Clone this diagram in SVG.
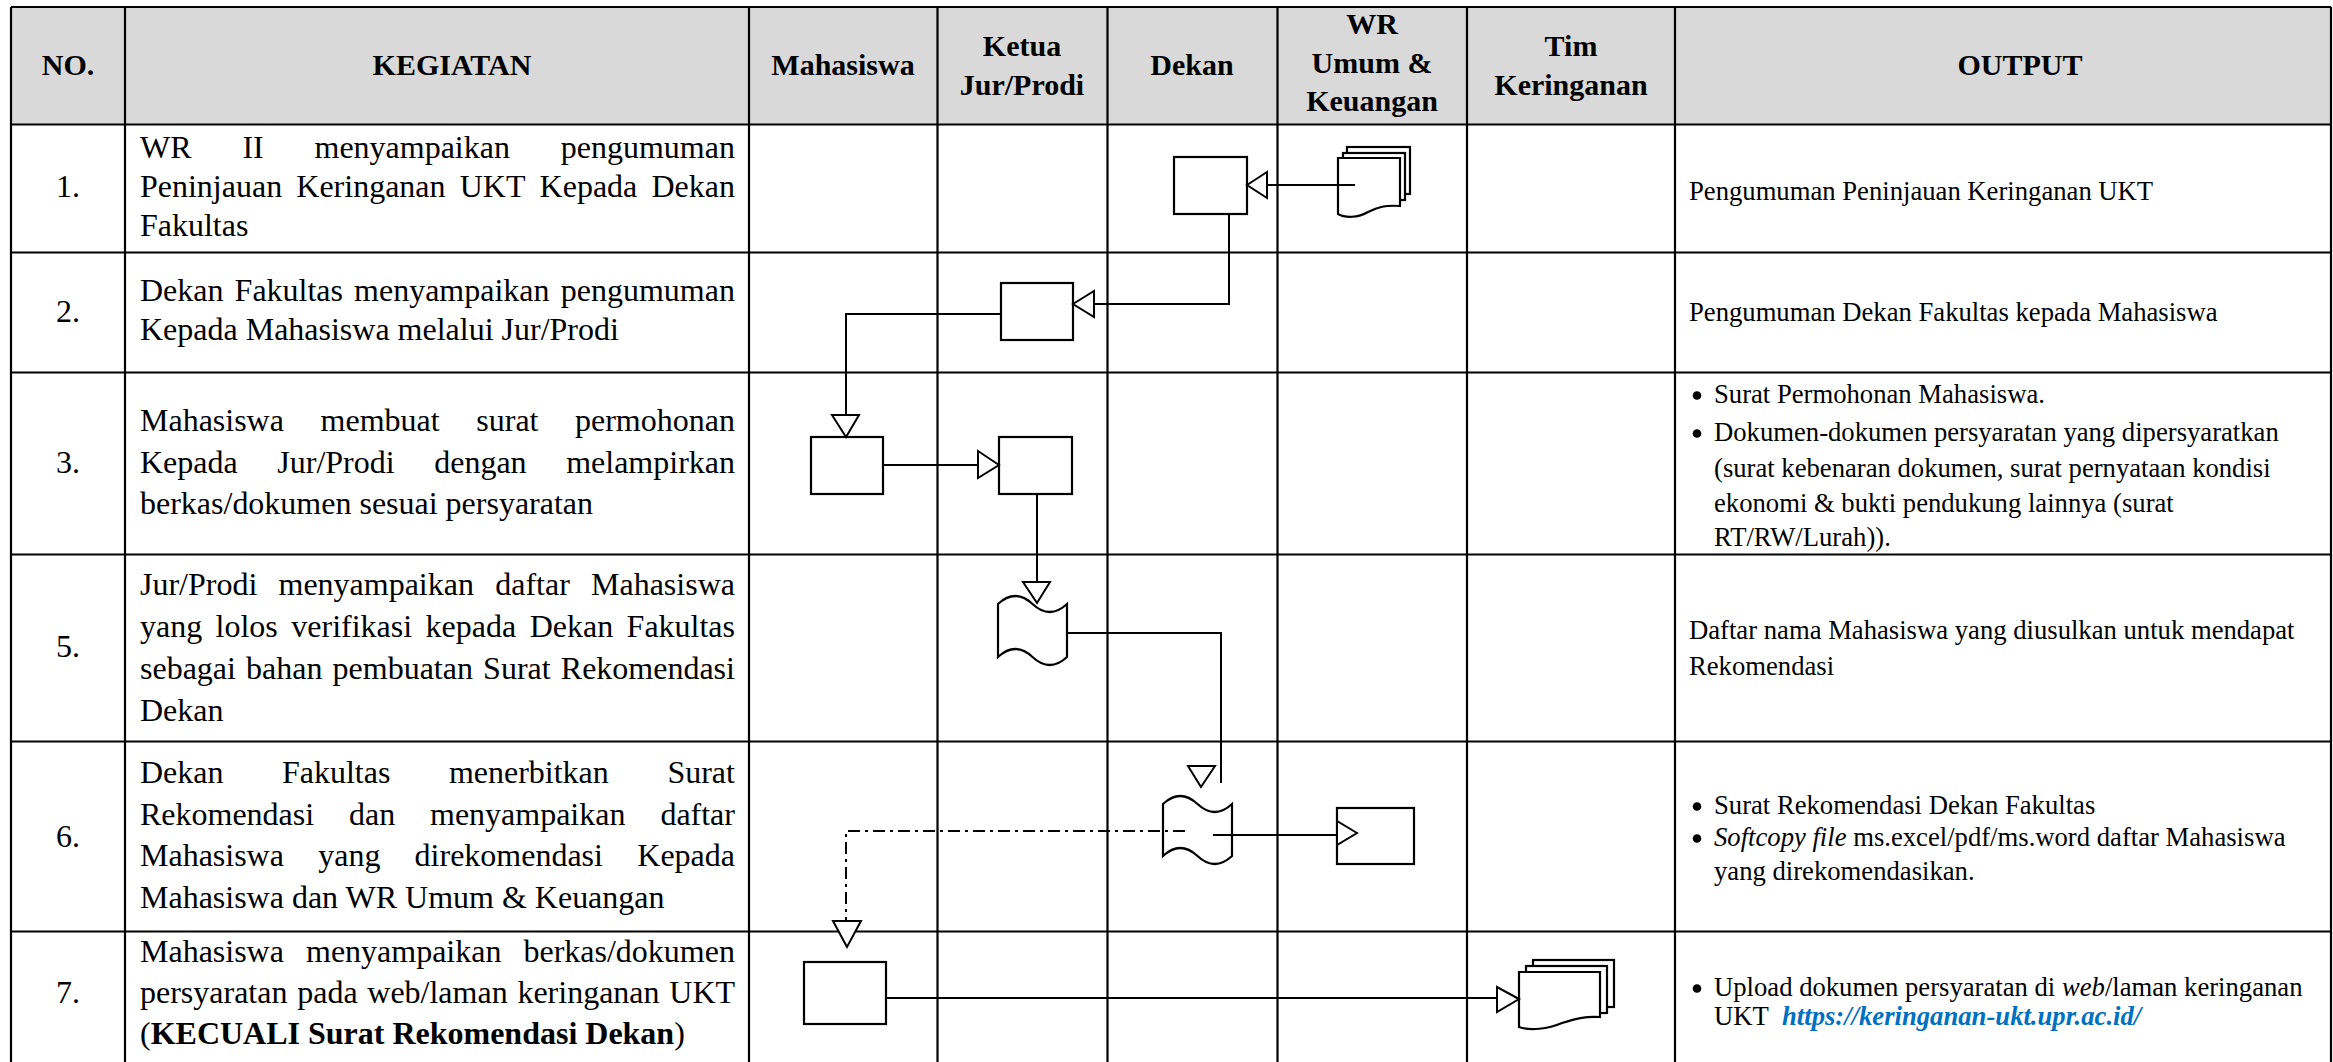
<svg xmlns="http://www.w3.org/2000/svg" width="2333" height="1062" viewBox="0 0 2333 1062">
<style>
.t{font-family:"Liberation Serif","Times New Roman",serif;font-size:32px;fill:#000}
.h{font-weight:bold;font-size:30px;text-anchor:middle}
.n{text-anchor:middle}
.o{font-size:26.67px}
.b{font-weight:bold}
.i{font-style:italic}
.lnk{font-weight:bold;font-style:italic;fill:#0070c0}
.dot{fill:#000}
.grid{stroke:#000;stroke-width:2.2;fill:none}
.shape{fill:#fff;stroke:#000;stroke-width:2.2;stroke-linejoin:miter}
.c{fill:none;stroke:#000;stroke-width:2}
.dd{stroke-dasharray:12 5 3 5}
.ah{fill:#fff;stroke:#000;stroke-width:2}
</style>
<rect x="0" y="0" width="2333" height="1062" fill="#fff"/>
<g id="table">
<rect x="11" y="7" width="2320" height="117.5" fill="#d9d9d9"/>
<path class="grid" d="M11,7H2331M11,124.5H2331M11,252.5H2331M11,372.5H2331M11,554.5H2331M11,741.5H2331M11,931.5H2331"/>
<path class="grid" d="M11,7V1062M125,7V1062M749,7V1062M937.5,7V1062M1107.5,7V1062M1277.5,7V1062M1467,7V1062M1675,7V1062M2331,7V1062"/>
</g>
<g id="header">
<text class="t h" transform="matrix(1 0 0 .96 0 75)" x="68">NO.</text>
<text class="t h" transform="matrix(1 0 0 .96 0 75)" x="452">KEGIATAN</text>
<text class="t h" transform="matrix(1 0 0 .96 0 75)" x="843">Mahasiswa</text>
<text class="t h" transform="matrix(1 0 0 .96 0 56)" x="1022">Ketua</text>
<text class="t h" transform="matrix(1 0 0 .96 0 95)" x="1022">Jur/Prodi</text>
<text class="t h" transform="matrix(1 0 0 .96 0 75)" x="1192">Dekan</text>
<text class="t h" transform="matrix(1 0 0 .96 0 34)" x="1372">WR</text>
<text class="t h" transform="matrix(1 0 0 .96 0 73)" x="1372">Umum &amp;</text>
<text class="t h" transform="matrix(1 0 0 .96 0 111)" x="1372">Keuangan</text>
<text class="t h" transform="matrix(1 0 0 .96 0 56)" x="1571">Tim</text>
<text class="t h" transform="matrix(1 0 0 .96 0 95)" x="1571">Keringanan</text>
<text class="t h" transform="matrix(1 0 0 .96 0 75)" x="2020">OUTPUT</text>
</g>
<g id="row1">
<text class="t n" transform="matrix(1 0 0 .96 0 197)" x="68">1.</text>
<text class="t" transform="matrix(1 0 0 .96 0 158)"><tspan x="140">WR</tspan><tspan x="242.4">II</tspan><tspan x="314.5">menyampaikan</tspan><tspan x="560.8">pengumuman</tspan></text>
<text class="t" transform="matrix(1 0 0 .96 0 197)"><tspan x="140">Peninjauan</tspan><tspan x="296.3">Keringanan</tspan><tspan x="459.7">UKT</tspan><tspan x="539.6">Kepada</tspan><tspan x="651.4">Dekan</tspan></text>
<text class="t" transform="matrix(1 0 0 .96 0 236)" x="140">Fakultas</text>
<text class="t o" x="1689" y="200">Pengumuman Peninjauan Keringanan UKT</text>
</g>
<g id="row2">
<text class="t n" transform="matrix(1 0 0 .96 0 322)" x="68">2.</text>
<text class="t" transform="matrix(1 0 0 .96 0 301)"><tspan x="140">Dekan</tspan><tspan x="234.6">Fakultas</tspan><tspan x="354.1">menyampaikan</tspan><tspan x="560.8">pengumuman</tspan></text>
<text class="t" transform="matrix(1 0 0 .96 0 340)" x="140">Kepada Mahasiswa melalui Jur/Prodi</text>
<text class="t o" x="1689" y="321">Pengumuman Dekan Fakultas kepada Mahasiswa</text>
</g>
<g id="row3">
<text class="t n" transform="matrix(1 0 0 .96 0 473)" x="68">3.</text>
<text class="t" transform="matrix(1 0 0 .96 0 431)"><tspan x="140">Mahasiswa</tspan><tspan x="320.6">membuat</tspan><tspan x="476.3">surat</tspan><tspan x="575">permohonan</tspan></text>
<text class="t" transform="matrix(1 0 0 .96 0 473)"><tspan x="140">Kepada</tspan><tspan x="277.3">Jur/Prodi</tspan><tspan x="434.2">dengan</tspan><tspan x="566.2">melampirkan</tspan></text>
<text class="t" transform="matrix(1 0 0 .96 0 514)" x="140">berkas/dokumen sesuai persyaratan</text>
<circle class="dot" cx="1697" cy="395.5" r="4.3"/>
<text class="t o" x="1714" y="403">Surat Permohonan Mahasiswa.</text>
<circle class="dot" cx="1697" cy="433.5" r="4.3"/>
<text class="t o" x="1714" y="441">Dokumen-dokumen persyaratan yang dipersyaratkan</text>
<text class="t o" x="1714" y="477">(surat kebenaran dokumen, surat pernyataan kondisi</text>
<text class="t o" x="1714" y="512">ekonomi &amp; bukti pendukung lainnya (surat</text>
<text class="t o" x="1714" y="546">RT/RW/Lurah)).</text>
</g>
<g id="row5">
<text class="t n" transform="matrix(1 0 0 .96 0 657)" x="68">5.</text>
<text class="t" transform="matrix(1 0 0 .96 0 595)"><tspan x="140">Jur/Prodi</tspan><tspan x="278.5">menyampaikan</tspan><tspan x="495.2">daftar</tspan><tspan x="591">Mahasiswa</tspan></text>
<text class="t" transform="matrix(1 0 0 .96 0 637)"><tspan x="140">yang</tspan><tspan x="215.6">lolos</tspan><tspan x="291.3">verifikasi</tspan><tspan x="425.6">kepada</tspan><tspan x="529.7">Dekan</tspan><tspan x="626.6">Fakultas</tspan></text>
<text class="t" transform="matrix(1 0 0 .96 0 679)"><tspan x="140">sebagai</tspan><tspan x="246.1">bahan</tspan><tspan x="332.6">pembuatan</tspan><tspan x="483.1">Surat</tspan><tspan x="560.8">Rekomendasi</tspan></text>
<text class="t" transform="matrix(1 0 0 .96 0 721)" x="140">Dekan</text>
<text class="t o" x="1689" y="639">Daftar nama Mahasiswa yang diusulkan untuk mendapat</text>
<text class="t o" x="1689" y="675">Rekomendasi</text>
</g>
<g id="row6">
<text class="t n" transform="matrix(1 0 0 .96 0 847)" x="68">6.</text>
<text class="t" transform="matrix(1 0 0 .96 0 783)"><tspan x="140">Dekan</tspan><tspan x="282">Fakultas</tspan><tspan x="448.9">menerbitkan</tspan><tspan x="667.4">Surat</tspan></text>
<text class="t" transform="matrix(1 0 0 .96 0 825)"><tspan x="140">Rekomendasi</tspan><tspan x="349">dan</tspan><tspan x="430">menyampaikan</tspan><tspan x="660.4">daftar</tspan></text>
<text class="t" transform="matrix(1 0 0 .96 0 866)"><tspan x="140">Mahasiswa</tspan><tspan x="318.2">yang</tspan><tspan x="414.6">direkomendasi</tspan><tspan x="637.3">Kepada</tspan></text>
<text class="t" transform="matrix(1 0 0 .96 0 908)" x="140">Mahasiswa dan WR Umum &amp; Keuangan</text>
<circle class="dot" cx="1697" cy="806.5" r="4.3"/>
<text class="t o" x="1714" y="814">Surat Rekomendasi Dekan Fakultas</text>
<circle class="dot" cx="1697" cy="838.5" r="4.3"/>
<text class="t o" x="1714" y="846"><tspan class="i">Softcopy file</tspan> ms.excel/pdf/ms.word daftar Mahasiswa</text>
<text class="t o" x="1714" y="880">yang direkomendasikan.</text>
</g>
<g id="row7">
<text class="t n" transform="matrix(1 0 0 .96 0 1003)" x="68">7.</text>
<text class="t" transform="matrix(1 0 0 .96 0 962)"><tspan x="140">Mahasiswa</tspan><tspan x="306">menyampaikan</tspan><tspan x="523.5">berkas/dokumen</tspan></text>
<text class="t" transform="matrix(1 0 0 .96 0 1003)"><tspan x="140">persyaratan</tspan><tspan x="297.2">pada</tspan><tspan x="367.3">web/laman</tspan><tspan x="517.4">keringanan</tspan><tspan x="669.3">UKT</tspan></text>
<text class="t" transform="matrix(1 0 0 .96 0 1044)" x="140">(<tspan class="b">KECUALI Surat Rekomendasi Dekan</tspan>)</text>
<circle class="dot" cx="1697" cy="988.5" r="4.3"/>
<text class="t o" x="1714" y="996">Upload dokumen persyaratan di <tspan class="i">web</tspan>/laman keringanan</text>
<text class="t o" x="1714" y="1025">UKT</text>
<text class="t o lnk" x="1782" y="1025">https://keringanan-ukt.upr.ac.id/</text>
</g>
<g id="nodes">
<g id="n1-dekan"><rect class="shape" x="1174" y="157" width="73" height="57"/></g>
<g id="n1-wr-docs">
<rect class="shape" x="1347" y="147" width="63" height="47"/>
<rect class="shape" x="1343" y="153" width="62" height="47"/>
<path class="shape" d="M1338,158H1400V206C1385,205 1378,207 1368,212C1358,218 1345,218 1338,214Z"/>
</g>
<g id="n2-ketua"><rect class="shape" x="1001" y="283" width="72" height="57"/></g>
<g id="n3-mhs"><rect class="shape" x="811" y="437" width="72" height="57"/></g>
<g id="n3-ketua"><rect class="shape" x="999" y="437" width="73" height="57"/></g>
<g id="n5-ketua-tape"><path class="shape" d="M998,604q17.25,-16 34.5,0t34.5,0V657q-17.25,16 -34.5,0t-34.5,0Z"/></g>
<g id="n6-dekan-tape"><path class="shape" d="M1163,804q17.25,-16 34.5,0t34.5,0V856q-17.25,16 -34.5,0t-34.5,0Z"/></g>
<g id="n6-wr"><rect class="shape" x="1337" y="808" width="77" height="56"/></g>
<g id="n7-mhs"><rect class="shape" x="804" y="962" width="82" height="62"/></g>
<g id="n7-tim-docs">
<rect class="shape" x="1533" y="960" width="81" height="47"/>
<rect class="shape" x="1526" y="966" width="81" height="47"/>
<path class="shape" d="M1519,972H1600V1017C1585,1016 1575,1019 1562,1023C1548,1029 1530,1031 1519,1027Z"/>
</g>
</g>
<g id="connectors">
<path class="c" d="M1355,185H1267"/>
<polygon class="ah" points="1247,185 1267,172 1267,198"/>
<path class="c" d="M1229,214V304H1094"/>
<polygon class="ah" points="1073,304 1094,291 1094,317"/>
<path class="c" d="M1001,314H846V415"/>
<polygon class="ah" points="846,437 832,415 859,415"/>
<path class="c" d="M883,465H978"/>
<polygon class="ah" points="999,465 978,451 978,478"/>
<path class="c" d="M1037,494V582"/>
<polygon class="ah" points="1037,603 1023,582 1050,582"/>
<path class="c" d="M1067,633H1221V783"/>
<polygon class="ah" points="1201,787 1188,766 1215,766"/>
<path class="c dd" d="M1185,831H846V921"/>
<polygon class="ah" points="847,947 833,921 861,921"/>
<path class="c" d="M1213,835H1337"/>
<polygon class="ah" points="1357,833 1337,821 1337,845"/>
<path class="c" d="M886,998H1497"/>
<polygon class="ah" points="1519,999 1497,987 1497,1012"/>
</g>
</svg>
